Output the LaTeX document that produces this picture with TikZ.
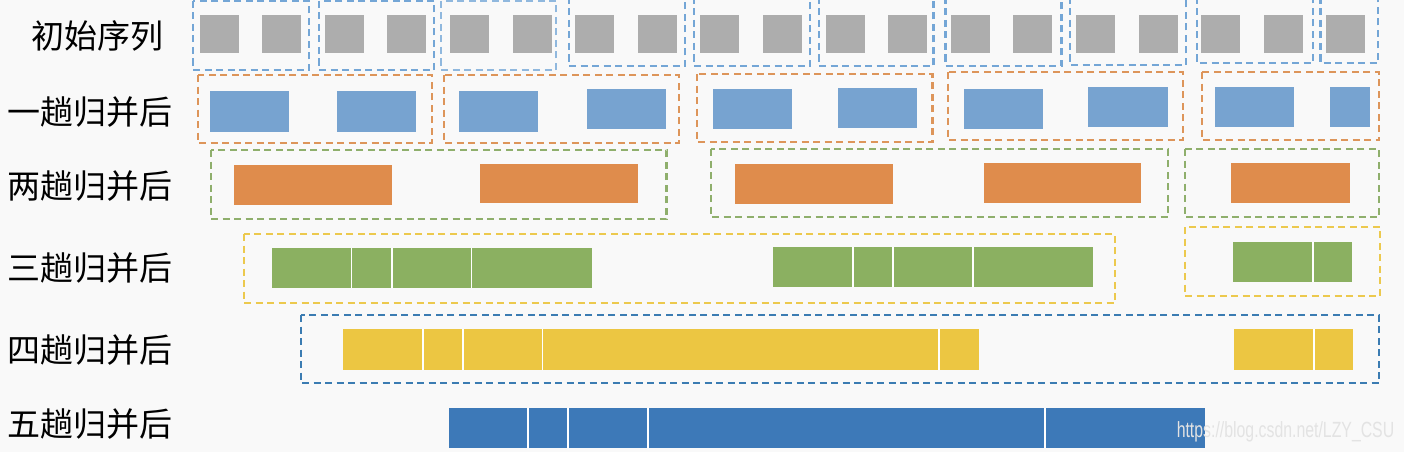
\documentclass[tikz,border=0pt]{standalone}
\usepackage{fontspec}
\newfontfamily\cjk{Noto Sans CJK SC}
\newfontfamily\wmfont{Liberation Sans}
\usepackage{tikz}
\definecolor{bgcol}{HTML}{F9F9F9}
\definecolor{sqgray}{HTML}{ADADAD}
\definecolor{lblue}{HTML}{77A3D0}
\definecolor{lbluedash}{HTML}{74A6D6}
\definecolor{orng}{HTML}{DF8C4C}
\definecolor{orngdash}{HTML}{DD955A}
\definecolor{grn}{HTML}{8BB061}
\definecolor{grndash}{HTML}{8FAF6C}
\definecolor{yel}{HTML}{ECC642}
\definecolor{yeldash}{HTML}{ECC94E}
\definecolor{dblue}{HTML}{3D79B8}
\definecolor{dbluedash}{HTML}{3B7CB2}
\newcommand{\seg}[5]{ \fill[#5] ( #1 , #2 ) rectangle ( #3 , #4 );}
\newcommand{\grp}[5]{ \draw[#5,line width=2.2pt,dash pattern=on 7pt off 4.5pt] ( #1 , #2 ) rectangle ( #3 , #4 );}
\newcommand{\splitline}[3]{ \draw[white,line width=1.2pt] ( #1 , #2 ) -- ( #1 , #3 );}
\newcommand{\rowlabel}[4]{\node[font=\cjk\fontsize{33}{33}\selectfont,inner sep=0pt] (#1) at ( #2 , #3 ) {#4};}

\begin{document}
\begin{tikzpicture}[x=1pt,y=-1pt]
        \useasboundingbox (0,0) rectangle (1404,452);
        \fill[bgcol] (0,0) rectangle (1404,452);

        % labels
        \rowlabel{init}{97}{36}{初始序列}
        \rowlabel{pass1}{90}{112}{一趟归并后}
        \rowlabel{pass2}{90}{186}{两趟归并后}
        \rowlabel{pass3}{90}{268}{三趟归并后}
        \rowlabel{pass4}{90}{350}{四趟归并后}
        \rowlabel{pass5}{90}{424}{五趟归并后}

        % row0
        \foreach \i in {0,...,18} {
            \pgfmathsetmacro{\xa}{199.6+62.6*\i}
            \fill[sqgray] (\xa,15) rectangle ++(39,38);
        }
        \grp{193}{1}{309}{70}{lbluedash}
        \grp{319}{1}{434}{70}{lbluedash}
        \grp{441}{1}{556}{70}{lbluedash!80}
        \grp{569}{-3}{685}{66}{lbluedash}
        \grp{694}{-3}{810}{66}{lbluedash}
        \grp{819}{-3}{933.5}{66}{lbluedash}
        \grp{945.5}{-3}{1061.5}{66}{lbluedash}
        \grp{1070}{-3}{1186}{65}{lbluedash}
        \grp{1197}{-3}{1313}{63}{lbluedash}
        \grp{1320.5}{-3}{1378}{63}{lbluedash}

        % row1
        \seg{210}{91}{289}{132}{lblue}
        \seg{337}{91}{416}{132}{lblue}
        \seg{459}{91}{538}{132}{lblue}
        \seg{587}{89}{666}{129}{lblue}
        \seg{712.5}{89}{792}{129}{lblue}
        \seg{838}{88}{917}{128}{lblue}
        \seg{964}{89}{1043}{129}{lblue}
        \seg{1088}{87}{1167.5}{127}{lblue}
        \seg{1215}{87}{1294}{127}{lblue}
        \seg{1330}{87}{1370}{127}{lblue}
        \grp{198}{75}{432}{143}{orngdash}
        \grp{444}{75}{679}{143}{orngdash}
        \grp{697}{74}{932.5}{142}{orngdash}
        \grp{948}{72}{1183}{140}{orngdash}
        \grp{1202}{72}{1379}{140}{orngdash}

        % row2
        \seg{233.5}{165}{391.5}{205}{orng}
        \seg{480}{164}{637.5}{203}{orng}
        \seg{735}{164}{893}{204}{orng}
        \seg{984}{163}{1141}{203}{orng}
        \seg{1231}{163}{1350}{203}{orng}
        \grp{211}{150}{666.5}{219}{grndash}
        \grp{711}{149}{1168}{217}{grndash}
        \grp{1185}{149}{1379}{217}{grndash}

        % row3
        \seg{271.5}{247.5}{591.5}{287.5}{grn}
        \splitline{351.8}{247.5}{287.5}
        \splitline{392}{247.5}{287.5}
        \splitline{471.4}{247.5}{287.5}
        \seg{773}{246.5}{1093}{286.5}{grn}
        \splitline{853}{246.5}{286.5}
        \splitline{893}{246.5}{286.5}
        \splitline{973}{246.5}{286.5}
        \seg{1232.5}{241.5}{1352}{282}{grn}
        \splitline{1313}{241.5}{282}
        \grp{244}{234}{1115}{303}{yeldash}
        \grp{1185}{227}{1380}{296}{yeldash}

        % row4
        \seg{343}{329}{979}{370}{yel}
        \splitline{423}{329}{370}
        \splitline{463}{329}{370}
        \splitline{542.4}{329}{370}
        \splitline{939}{329}{370}
        \seg{1233.5}{329}{1353}{370}{yel}
        \splitline{1314}{329}{370}
        \grp{301}{315}{1379}{383}{dbluedash}

        % row5
        \seg{448.7}{407.7}{1204.7}{447.7}{dblue}
        \splitline{528}{407.7}{447.7}
        \splitline{568}{407.7}{447.7}
        \splitline{648}{407.7}{447.7}
        \splitline{1045}{407.7}{447.7}

        % watermark
        \node[font=\wmfont\fontsize{22}{22}\selectfont,text=gray!22,xscale=0.72,anchor=base,inner sep=0pt] (mark) at (1285.5,437) {https://blog.csdn.net/LZY\_CSU};
\end{tikzpicture}
\end{document}
